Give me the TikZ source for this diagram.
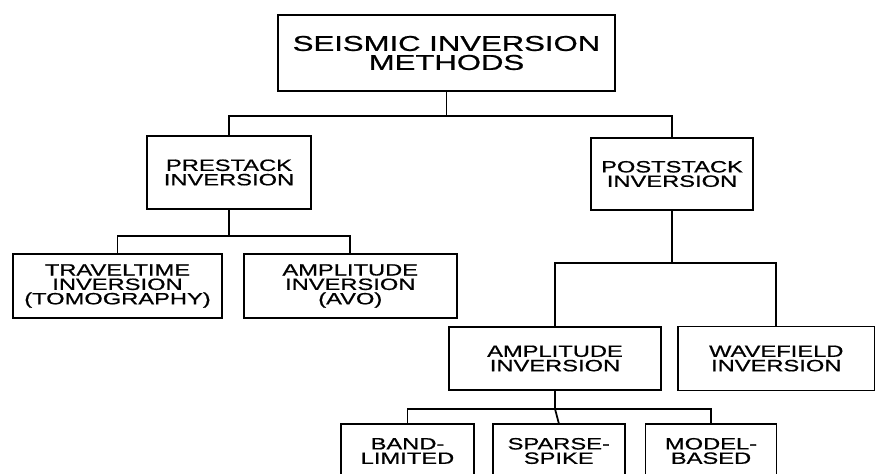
\documentclass[tikz,border=0pt]{standalone}
\usepackage{fontspec}
\setmainfont{Liberation Sans}[FakeStretch=1.45,FakeBold=0.8]
\usepackage{tikz}
\usetikzlibrary{positioning}

\begin{document}
\begin{tikzpicture}[
node distance=0.4cm,
box/.style={draw, line width=1pt, fill=white, align=center, inner sep=0pt, font=\fontsize{9.3}{8.2}\selectfont},
link/.style={line width=1pt}
]
\useasboundingbox (0,0) rectangle (17.5,9.48);
\node[box, minimum width=6.74cm, minimum height=1.52cm, font=\fontsize{12.2}{10.8}\selectfont] (top) at (8.93,8.42) {SEISMIC INVERSION\\METHODS};
\node[box, minimum width=3.28cm, minimum height=1.46cm] (pre) at (4.58,6.03) {PRESTACK\\INVERSION};
\node[box, minimum width=3.24cm, minimum height=1.44cm] (post) at (13.44,6.00) {POSTSTACK\\INVERSION};
\node[box, minimum width=4.18cm, minimum height=1.28cm] (travel) at (2.35,3.76) {TRAVELTIME\\INVERSION\\(TOMOGRAPHY)};
\node[box, minimum width=4.26cm, minimum height=1.28cm, right=of travel] (avo) {AMPLITUDE\\INVERSION\\(AVO)};
\node[box, minimum width=4.24cm, minimum height=1.26cm] (amp) at (11.10,2.31) {AMPLITUDE\\INVERSION};
\node[box, minimum width=3.94cm, minimum height=1.28cm, right=0.3cm of amp] (wave) {WAVEFIELD\\INVERSION};
\node[box, minimum width=2.66cm, minimum height=1.08cm] (band) at (8.15,0.46) {BAND-\\LIMITED};
\node[box, minimum width=2.64cm, minimum height=1.08cm, right=0.34cm of band] (sparse) {SPARSE-\\SPIKE};
\node[box, minimum width=2.62cm, minimum height=1.08cm, right=0.38cm of sparse] (model) {MODEL-\\BASED};
% tree connectors
\draw[link] (top.south) -- ++(0,-0.48) coordinate (j1);
\draw[link] (pre.north) |- (j1) -| (post.north);
\draw[link] (pre.south) -- ++(0,-0.52) coordinate (j2);
\draw[link] (travel.north) |- (j2) -| (avo.north);
\draw[link] (post.south) -- ++(0,-1.04) coordinate (j3);
\draw[link] (amp.north) |- (j3) -| (wave.north);
\draw[link] (amp.south) -- ++(0,-0.36) coordinate (j4);
\draw[link] (band.north) |- (j4) -| (model.north);
\draw[link] (j4) -- (sparse.north);
\end{tikzpicture}
\end{document}
